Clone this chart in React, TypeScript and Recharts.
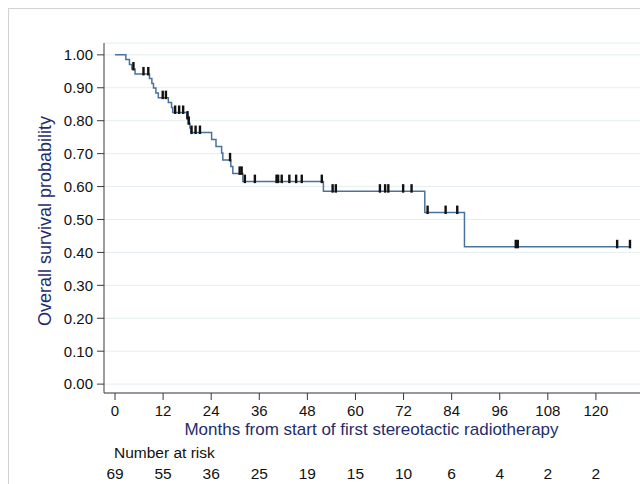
import React from 'react';
import { ComposedChart, Line, Scatter, XAxis, YAxis, CartesianGrid } from 'recharts';

// Kaplan-Meier steps: month of each drop and survival after it
const stepMonths = [
  0, 2.7, 3.6, 4.2, 5.0, 8.6, 9.2, 9.6, 10.2, 10.8, 13.3, 14.1, 14.4, 17.9, 18.3, 18.7, 18.95,
  24.1, 25.2, 26.6, 26.9, 28.9, 29.4, 31.9, 52.0, 77.3, 87.2, 128.5,
];
const stepSurvival = [
  1.0, 0.986, 0.971, 0.957, 0.942, 0.928, 0.913, 0.899, 0.884, 0.87, 0.855, 0.84, 0.825, 0.808, 0.792, 0.778, 0.764,
  0.743, 0.722, 0.702, 0.681, 0.661, 0.64, 0.615, 0.586, 0.521, 0.417, 0.417,
];

// censored observations (months)
const censorMonths = [
  4.6, 7.1, 8.3, 11.9, 12.7, 15.0, 16.0, 17.0, 18.1, 18.4, 19.1, 20.1, 21.2, 28.7, 31.1, 31.6,
  32.4, 34.9, 40.3, 40.7, 41.6, 43.5, 45.2, 46.6, 51.6, 54.3, 55.1, 66.1, 67.4, 68.2, 71.9, 74.0,
  78.0, 82.5, 85.4, 100.0, 100.5, 125.3, 128.5,
];

const monthTicks = [0, 12, 24, 36, 48, 60, 72, 84, 96, 108, 120];
const atRisk = [69, 55, 36, 25, 19, 15, 10, 6, 4, 2, 2];
const survivalTicks = [0, 0.1, 0.2, 0.3, 0.4, 0.5, 0.6, 0.7, 0.8, 0.9, 1.0];

const curve = stepMonths.map((t, i) => ({ t, s: stepSurvival[i] }));

const survivalAt = (t: number) => {
  let s = stepSurvival[0];
  stepMonths.forEach((m, i) => {
    if (m <= t) s = stepSurvival[i];
  });
  return s;
};
const censored = censorMonths.map((t) => ({ t, s: survivalAt(t) }));

const FONT = '"Liberation Sans", Arial, sans-serif';
const NAVY = '#1f2d6b';
const AXIS = '#3a3a3a';

const CensorMark = (props: any) => {
  const { cx, cy } = props;
  if (cx == null || cy == null) return null;
  return <rect x={cx - 1.2} y={cy - 7} width={2.4} height={8.5} fill="#111" />;
};

const monthsTitle = (props: any) => {
  const vb = props.viewBox;
  return (
    <text x={vb.x + vb.width / 2 - 3} y={vb.y + 42} textAnchor="middle" fill={NAVY}
      style={{ fontFamily: FONT, fontSize: 17 }}>
      Months from start of first stereotactic radiotherapy
    </text>
  );
};

const riskTitle = (props: any) => {
  const vb = props.viewBox;
  return (
    <text x={vb.x + 10} y={vb.y + 17} fill="#111" style={{ fontFamily: FONT, fontSize: 15.5 }}>
      Number at risk
    </text>
  );
};

const survivalTitle = (props: any) => {
  const vb = props.viewBox;
  const x = 36;
  const y = vb.y + vb.height / 2 + 3;
  return (
    <text x={x} y={y} transform={`rotate(-90, ${x}, ${y})`} textAnchor="middle" dominantBaseline="central"
      fill={NAVY} style={{ fontFamily: FONT, fontSize: 18 }}>
      Overall survival probability
    </text>
  );
};

export default function App() {
  return (
    <div
      style={{
        position: 'absolute',
        left: 8,
        top: 8,
        width: 632,
        height: 476,
        boxSizing: 'border-box',
        overflow: 'hidden',
        borderLeft: '1px solid #d2d2d2',
        borderTop: '1px solid #d2d2d2',
        background: '#fff',
        fontFamily: FONT,
      }}
    >
      <ComposedChart width={650} height={475} margin={{ top: 34, right: 14, bottom: 0, left: 0 }}>
        <CartesianGrid vertical={false} stroke="#e4eef0" xAxisId="main" />
        <XAxis
          xAxisId="main"
          dataKey="t"
          type="number"
          domain={[-2.75, 132.25]}
          allowDataOverflow
          ticks={monthTicks}
          interval={0}
          height={48}
          tickSize={7}
          tickMargin={5}
          stroke={AXIS}
          tick={{ fill: '#111', fontSize: 15, fontFamily: FONT }}
          label={monthsTitle}
        />
        <XAxis
          xAxisId="risk"
          dataKey="t"
          type="number"
          domain={[-2.75, 132.25]}
          allowDataOverflow
          ticks={monthTicks}
          interval={0}
          height={43}
          axisLine={false}
          tickLine={false}
          tickSize={0}
          tickMargin={27}
          tickFormatter={(v: number) => String(atRisk[monthTicks.indexOf(v)] ?? '')}
          tick={{ fill: '#111', fontSize: 15.5, fontFamily: FONT }}
          label={riskTitle}
        />
        <YAxis
          dataKey="s"
          type="number"
          domain={[-0.027, 1.036]}
          allowDataOverflow
          ticks={survivalTicks}
          interval={0}
          width={95}
          tickSize={7}
          tickMargin={4}
          stroke={AXIS}
          tickFormatter={(v: number) => v.toFixed(2)}
          tick={{ fill: '#111', fontSize: 15, fontFamily: FONT }}
          label={survivalTitle}
        />
        <Line
          xAxisId="main"
          data={curve}
          dataKey="s"
          type="stepAfter"
          stroke="#4a72a0"
          strokeWidth={1.5}
          dot={false}
          activeDot={false}
          isAnimationActive={false}
        />
        <Scatter
          xAxisId="main"
          data={censored}
          dataKey="s"
          shape={CensorMark}
          isAnimationActive={false}
        />
      </ComposedChart>
    </div>
  );
}
